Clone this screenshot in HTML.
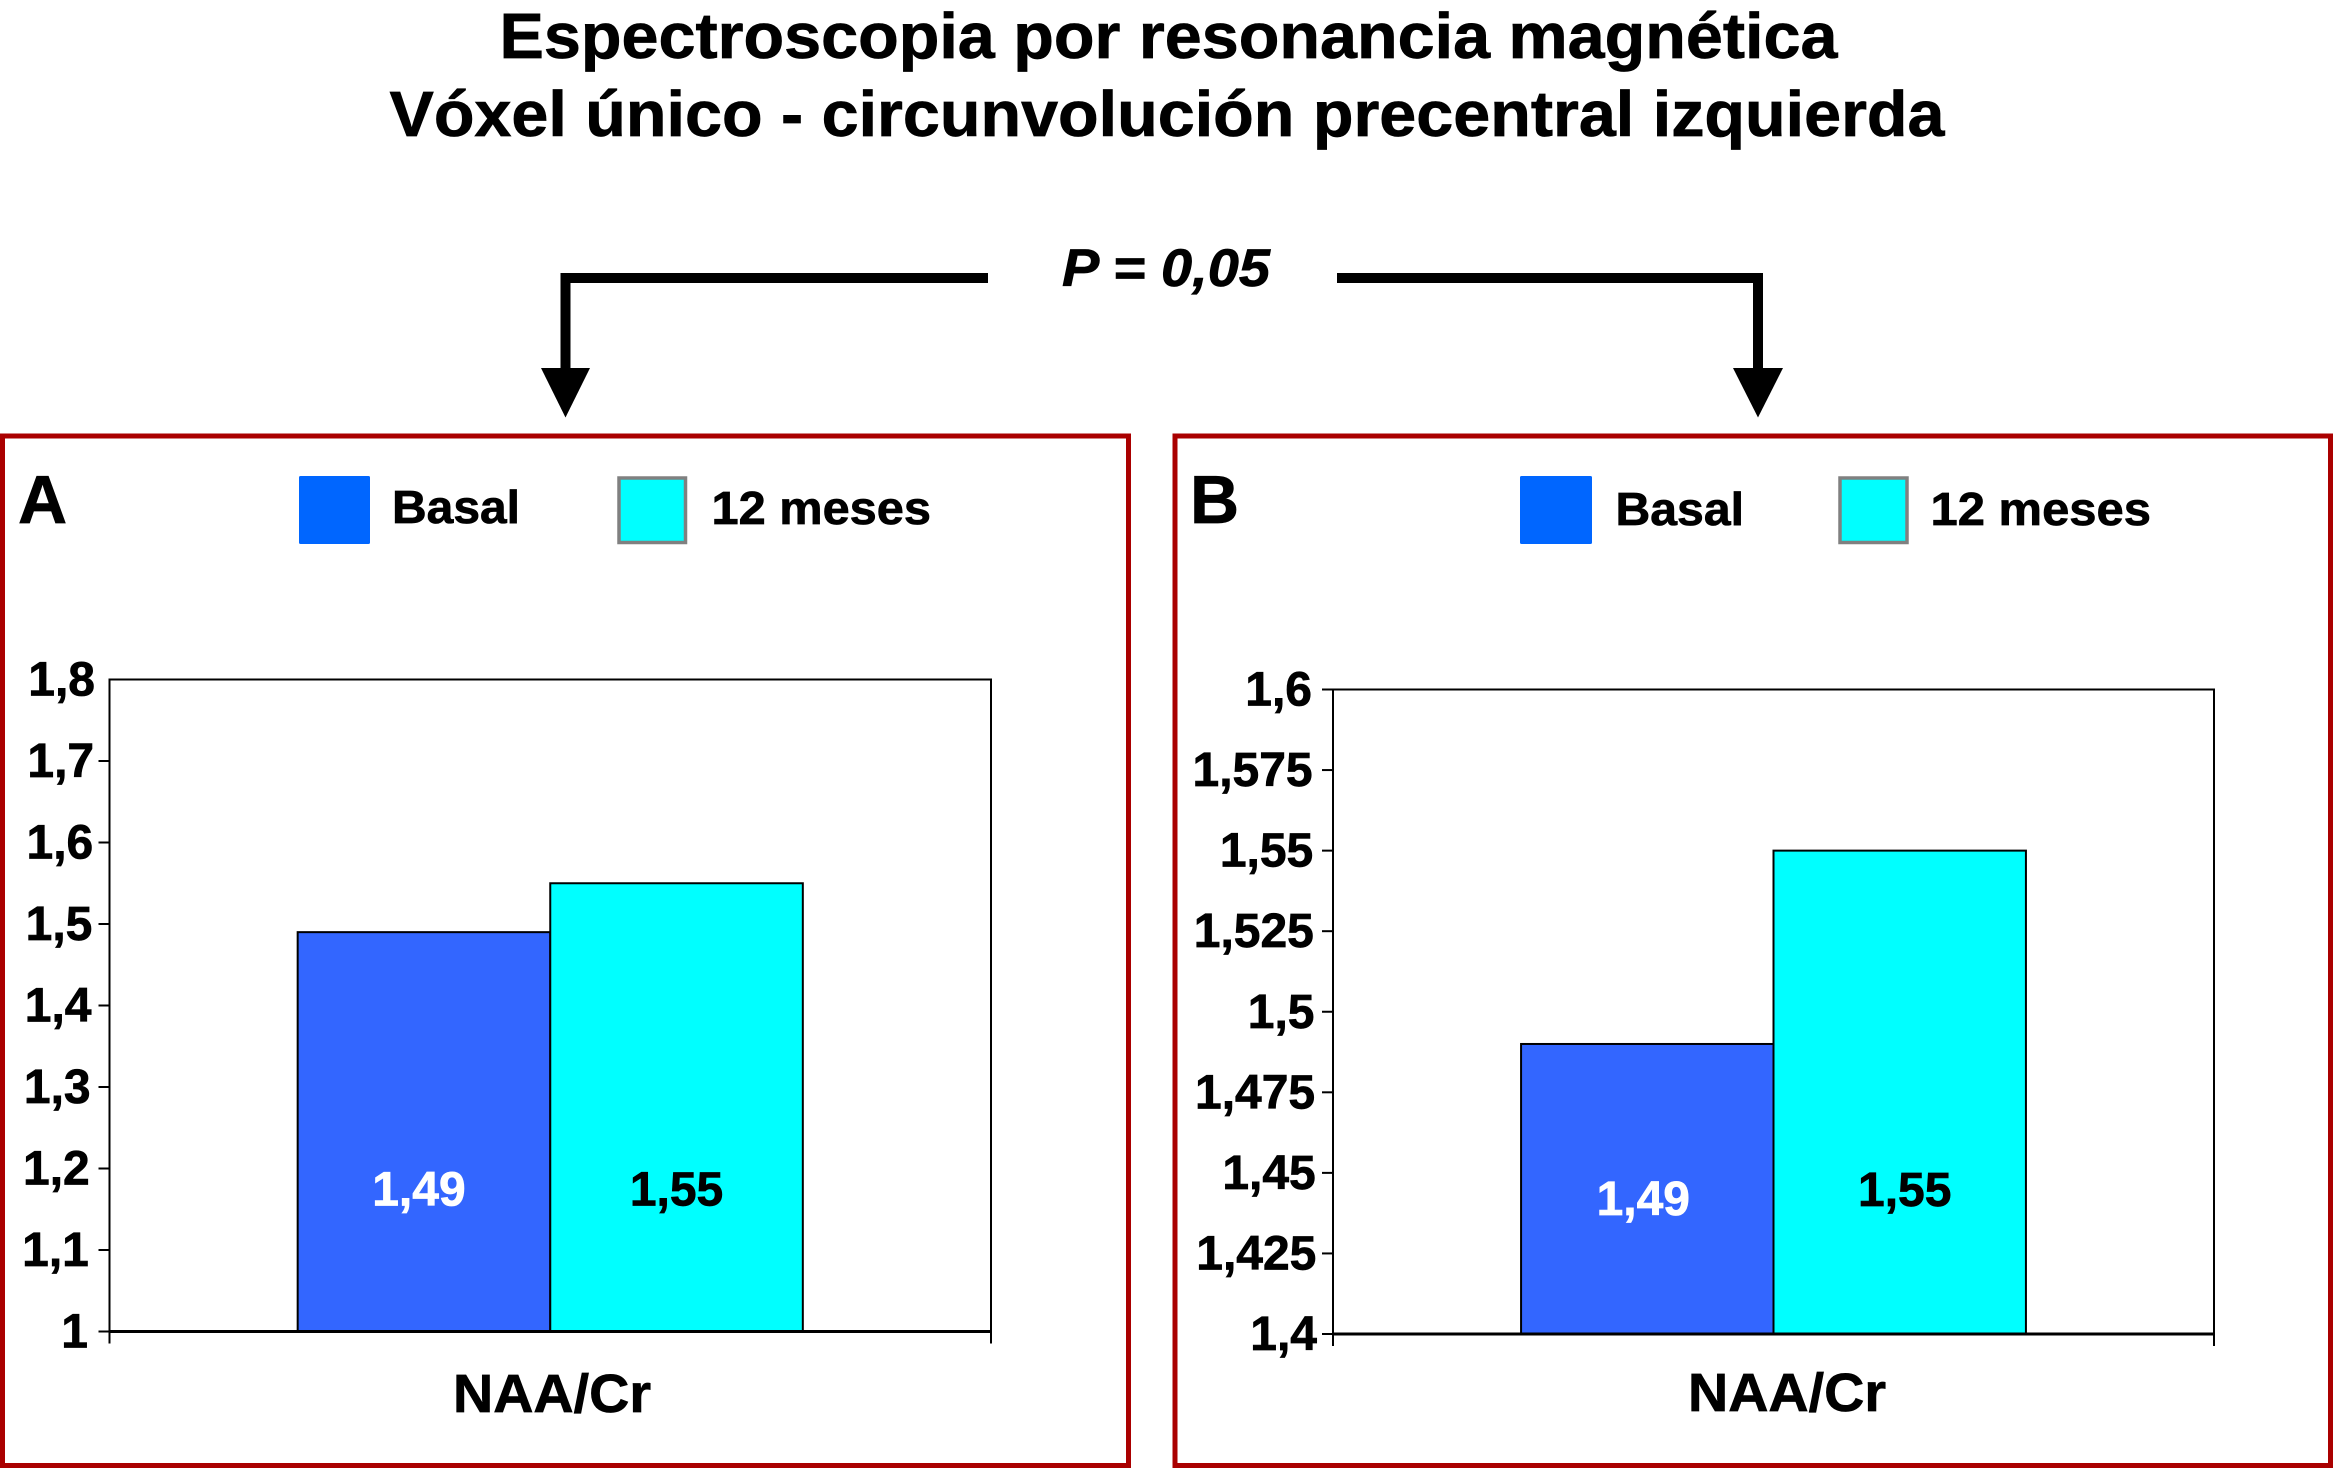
<!DOCTYPE html>
<html lang="es">
<head>
<meta charset="utf-8">
<title>Espectroscopia por resonancia magnética</title>
<style>
html,body{margin:0;padding:0;background:#fff;width:2333px;height:1468px;overflow:hidden}
svg{display:block;font-family:"Liberation Sans",Arial,sans-serif;font-weight:bold}
svg text{stroke:#000;stroke-width:.7px}
</style>
</head>
<body>
<svg id="figure" xmlns="http://www.w3.org/2000/svg" width="2333" height="1468" viewBox="0 0 2333 1468">
  <rect x="0" y="0" width="2333" height="1468" fill="#fff"/>
  <text x="499.5" y="58" font-size="64" textLength="1338" lengthAdjust="spacingAndGlyphs">Espectroscopia por resonancia magnética</text>
  <text x="389.5" y="136" font-size="64" textLength="1555" lengthAdjust="spacingAndGlyphs">Vóxel único - circunvolución precentral izquierda</text>
  <text x="1062" y="286" font-size="53" font-style="italic" textLength="208" lengthAdjust="spacingAndGlyphs">P = 0,05</text>

  <path d="M988 278 H565.5 V372" fill="none" stroke="#000" stroke-width="10"/>
  <polygon points="541,368 590,368 565.5,417.5" fill="#000"/>
  <path d="M1337 278 H1758 V372" fill="none" stroke="#000" stroke-width="10"/>
  <polygon points="1733,368 1783,368 1758,417.5" fill="#000"/>

  <rect x="2.5" y="436" width="1126" height="1029.5" fill="none" stroke="#aa0000" stroke-width="5"/>
  <rect x="1175" y="436" width="1155.5" height="1029.5" fill="none" stroke="#aa0000" stroke-width="5"/>

  <text x="18" y="523" font-size="68">A</text>
  <text x="1190" y="523" font-size="68">B</text>

  <rect x="299" y="476" width="71" height="68" rx="1.5" fill="#0066ff"/>
  <text x="392" y="523" font-size="46" textLength="128" lengthAdjust="spacingAndGlyphs">Basal</text>
  <rect x="619" y="478" width="66.5" height="64.5" fill="#00ffff" stroke="#808080" stroke-width="3.5"/>
  <text x="711.5" y="524" font-size="46" textLength="219.5" lengthAdjust="spacingAndGlyphs">12 meses</text>

  <rect x="1520" y="476" width="72" height="68" rx="1.5" fill="#0066ff"/>
  <text x="1615.5" y="525" font-size="46" textLength="128.5" lengthAdjust="spacingAndGlyphs">Basal</text>
  <rect x="1840" y="478" width="67" height="64.5" fill="#00ffff" stroke="#808080" stroke-width="3.5"/>
  <text x="1930.5" y="525" font-size="46" textLength="220.5" lengthAdjust="spacingAndGlyphs">12 meses</text>

  <g id="chart-a"></g>
  <g id="chart-b"></g>
</svg>

<script>
const seriesNames = ["Basal", "12 meses"];
const seriesColors = ["#3366ff", "#00ffff"];
const labelColors = ["#ffffff", "#000000"];
const categoryLabel = "NAA/Cr";

const chartAValues = [1.49, 1.55];
const chartATickValues = [1, 1.1, 1.2, 1.3, 1.4, 1.5, 1.6, 1.7, 1.8];
const chartATickLabels = ["1", "1,1", "1,2", "1,3", "1,4", "1,5", "1,6", "1,7", "1,8"];

const chartBValues = [1.49, 1.55];
const chartBTickValues = [1.4, 1.425, 1.45, 1.475, 1.5, 1.525, 1.55, 1.575, 1.6];
const chartBTickLabels = ["1,4", "1,425", "1,45", "1,475", "1,5", "1,525", "1,55", "1,575", "1,6"];

const SVG_NS = "http://www.w3.org/2000/svg";

function makeEl(parent, tag, props, text) {
  const el = document.createElementNS(SVG_NS, tag);
  for (const key in props) el.setAttribute(key, props[key]);
  if (text !== undefined) el.textContent = text;
  parent.appendChild(el);
  return el;
}

function drawChart(groupId, prefix, values, tickValues, tickLabels, box, labelBaselines, labelCenters, categoryX, categoryY, labelRightBottom, labelRightTop, showTopTick) {
  const group = document.getElementById(groupId);
  const yMin = tickValues[0];
  const yMax = tickValues[tickValues.length - 1];
  const yScale = v => box.bottom - (v - yMin) / (yMax - yMin) * (box.bottom - box.top);
  const plotWidth = box.right - box.left;
  const barWidth = plotWidth / (values.length + 1.49);
  const barStart = box.left + (plotWidth - barWidth * values.length) / 2;
  const xScale = i => barStart + i * barWidth;

  const plotArea = makeEl(group, "rect", {x: box.left, y: box.top, width: plotWidth, height: box.bottom - box.top, fill: "#fff", stroke: "#000", "stroke-width": 2});
  
  

  tickValues.forEach((v, i) => {
    const y = yScale(v);
    const t = i / (tickValues.length - 1);
    if (i < tickValues.length - 1 || showTopTick) {
      const tick = makeEl(group, "line", {x1: box.left - 11, x2: box.left, y1: y, y2: y, stroke: "#000", "stroke-width": 2});
      
      
    }
    const label = makeEl(group, "text", {x: labelRightBottom + (labelRightTop - labelRightBottom) * t, y: y + 16, "font-size": 48, "text-anchor": "end"}, tickLabels[i]);
    
    
  });

  [box.left, box.right].forEach(x => {
    const tick = makeEl(group, "line", {x1: x, x2: x, y1: box.bottom, y2: box.bottom + 12, stroke: "#000", "stroke-width": 2});
    
    
  });

  values.forEach((v, i) => {
    const bar = makeEl(group, "rect", {x: xScale(i), y: yScale(v), width: barWidth, height: box.bottom - yScale(v), fill: seriesColors[i], stroke: "#000", "stroke-width": 2});
    
    
  });

  values.forEach((v, i) => {
    const valueLabel = makeEl(group, "text", {x: xScale(i) + barWidth / 2 + labelCenters[i], y: box.bottom - labelBaselines[i], "font-size": 48, "text-anchor": "middle", fill: labelColors[i], style: "stroke:" + labelColors[i]}, String(v).replace(".", ","));
    
    
  });

  const baseline = makeEl(group, "line", {x1: box.left, x2: box.right, y1: box.bottom, y2: box.bottom, stroke: "#000", "stroke-width": 3});
  
  

  const category = makeEl(group, "text", {x: categoryX, y: categoryY, "font-size": 54, "text-anchor": "middle", textLength: 198, lengthAdjust: "spacingAndGlyphs"}, categoryLabel);
  
  
}

drawChart("chart-a", "chart-a", chartAValues, chartATickValues, chartATickLabels,
  {left: 109.5, right: 991, top: 679.5, bottom: 1331.5}, [126, 126], [-5, 0], 552, 1412, 88, 95, false);
drawChart("chart-b", "chart-b", chartBValues, chartBTickValues, chartBTickLabels,
  {left: 1333, right: 2214, top: 689.5, bottom: 1334}, [119, 128], [-4, 5], 1787, 1411, 1317, 1312, true);
</script>
</body>
</html>
